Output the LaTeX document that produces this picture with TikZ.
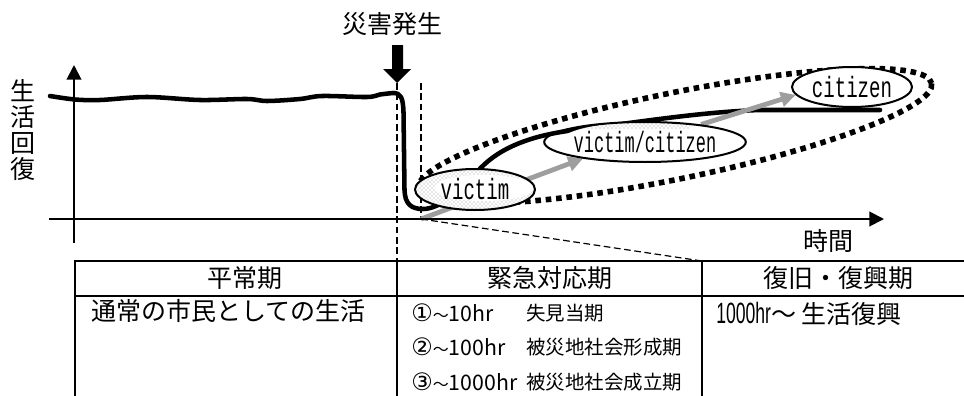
\documentclass[tikz,border=0pt]{standalone}
\usepackage{fontspec}
\setmainfont{Noto Sans CJK JP}
\newfontfamily\monof[FakeStretch=0.65]{Liberation Mono}
\newfontfamily\narrowf[FakeStretch=0.6]{Liberation Sans}
\newfontfamily\circf{DejaVu Sans}
\usetikzlibrary{shapes.geometric,arrows.meta,patterns}
\pgfdeclarelayer{bg}
\pgfsetlayers{bg,main}
\newcommand{\circd}[1]{{\circf\fontsize{18pt}{18pt}\selectfont #1}}
\newcommand{\wavet}{{\fontsize{12pt}{12pt}\selectfont ～}}
\newcommand{\hrtext}[1]{{\fontsize{16pt}{16pt}\selectfont #1}}
\begin{document}
\begin{tikzpicture}[x=0.75pt,y=-0.75pt,
  axis/.style={line width=1.5pt,-{Triangle[length=11pt,width=11pt]}},
  guide/.style={line width=0.9pt,dash pattern=on 5pt off 2.7pt},
  life/.style={line width=3.4pt,line cap=round,line join=round},
  role/.style={ellipse,draw,line width=1.5pt,inner sep=0pt,font=\monof\fontsize{22pt}{22pt}\selectfont},
  grayarrow/.style={draw=black!38,line width=3.6pt,-{Triangle[length=11pt,width=11pt]}},
  dotring/.style={line width=4.2pt,dash pattern=on 4.2pt off 3.6pt},
  grid/.style={line width=1.5pt},
  big/.style={inner sep=0pt,font=\fontsize{18.75pt}{19.5pt}\selectfont},
  small/.style={inner sep=0pt,font=\fontsize{14.6pt}{16pt}\selectfont},
  speck/.style={pattern=crosshatch dots,pattern color=black!40},
]
\useasboundingbox (0,0) rectangle (964,396);

% axes
\coordinate (yb) at (74,243);
\coordinate (yt) at (74,65);
\coordinate (xl) at (49,219);
\coordinate (xr) at (884,219);
\draw[axis] (yb) -- (yt);
\draw[axis] (xl) -- (xr);

% role ellipses
\node[role,minimum width=90pt,minimum height=30.75pt] (victim) at (475,189.5) {victim};
\node[role,minimum width=127.5pt,minimum height=30pt] (vc) at (645,142) {\scalebox{0.89}[1]{victim/citizen}};
\node[role,minimum width=90pt,minimum height=30pt] (cit) at (852,87) {citizen};

% guides
\coordinate (tip) at (397,83);
\coordinate (t1) at (397,261);
\coordinate (g2) at (421,83);
\coordinate (o) at (421,219);
\coordinate (t2) at (702,261);

\begin{pgfonlayer}{bg}
\draw[guide] (tip) -- (t1);
\draw[guide] (g2) -- (o);
\draw[guide] (o) -- (t2);
\draw[dotring,rotate around={11.6:(675,136)}] (675,136) ellipse [x radius=262,y radius=43];
\draw[life] plot[smooth,tension=0.55] coordinates {(50,96) (75,99.5) (100,100) (147,97) (200,100) (247,99) (267,101) (300,99) (322,96) (367,97) (380,94.5) (393,93)}
  .. controls (401,93) and (403,98) .. (403.5,112) -- (404.5,190)
  .. controls (405,204) and (411,209) .. (423,209)
  .. controls (440,209) and (462,190) .. (477,172)
  .. controls (495,151) and (525,136) .. (575,130)
  .. controls (640,122) and (700,112) .. (760,110) -- (880,110);
\draw[grayarrow] (o) -- (vc.195);
\draw[grayarrow] (vc) -- (cit.188);
% white fills and speckle
\fill[white] (victim.center) ellipse [x radius=60,y radius=20.5];
\fill[white] (vc.center) ellipse [x radius=85,y radius=20];
\fill[white] (cit.center) ellipse [x radius=60,y radius=20];
\begin{scope}
  \clip (victim.center) ellipse [x radius=60,y radius=20.5];
  \fill[speck] (victim.center) ellipse [x radius=60,y radius=20.5];
  \fill[white] (484,188) ellipse [x radius=50,y radius=13];
\end{scope}
\begin{scope}
  \clip (vc.center) ellipse [x radius=85,y radius=20];
  \fill[speck] (565,118) rectangle (690,128);
\end{scope}
\end{pgfonlayer}

% disaster arrow and labels
\fill (392,45) -- (403,45) -- (403,69) -- (411,69) -- (tip) -- (383,69) -- (392,69) -- cycle;
\node[big] (title) at (392,24) {災害発生};
\node[big] (time) at (828,241) {時間};
\node[big,align=center] (ylab) at (23.5,130) {生\\活\\回\\復};

% table
\draw[grid] (75,396) -- (75,261) -- (964,261);
\draw[grid] (75,296) -- (964,296);
\draw[grid] (397,261) -- (397,396);
\draw[grid] (702,261) -- (702,396);
\node[big] (h1) at (245,278) {平常期};
\node[big] (h2) at (550,278) {緊急対応期};
\node[big] (h3) at (838,278) {復旧・復興期};
\node[big,anchor=west] (b1) at (91,311) {通常の市民としての生活};
\node[small,anchor=west] (c1) at (411,313) {\circd{①}\wavet\hrtext{10hr}};
\node[small,anchor=west] (d1) at (526,313) {失見当期};
\node[small,anchor=west] (c2) at (411,347) {\circd{②}\wavet\hrtext{100hr}};
\node[small,anchor=west] (d2) at (526,347) {被災地社会形成期};
\node[small,anchor=west] (c3) at (411,382) {\circd{③}\wavet\hrtext{1000hr}};
\node[small,anchor=west] (d3) at (526,382) {被災地社会成立期};
\node[big,anchor=west] (e1) at (716,314) {{\narrowf\fontsize{22pt}{22pt}\selectfont 1000hr}～\ 生活復興};
\end{tikzpicture}
\end{document}
